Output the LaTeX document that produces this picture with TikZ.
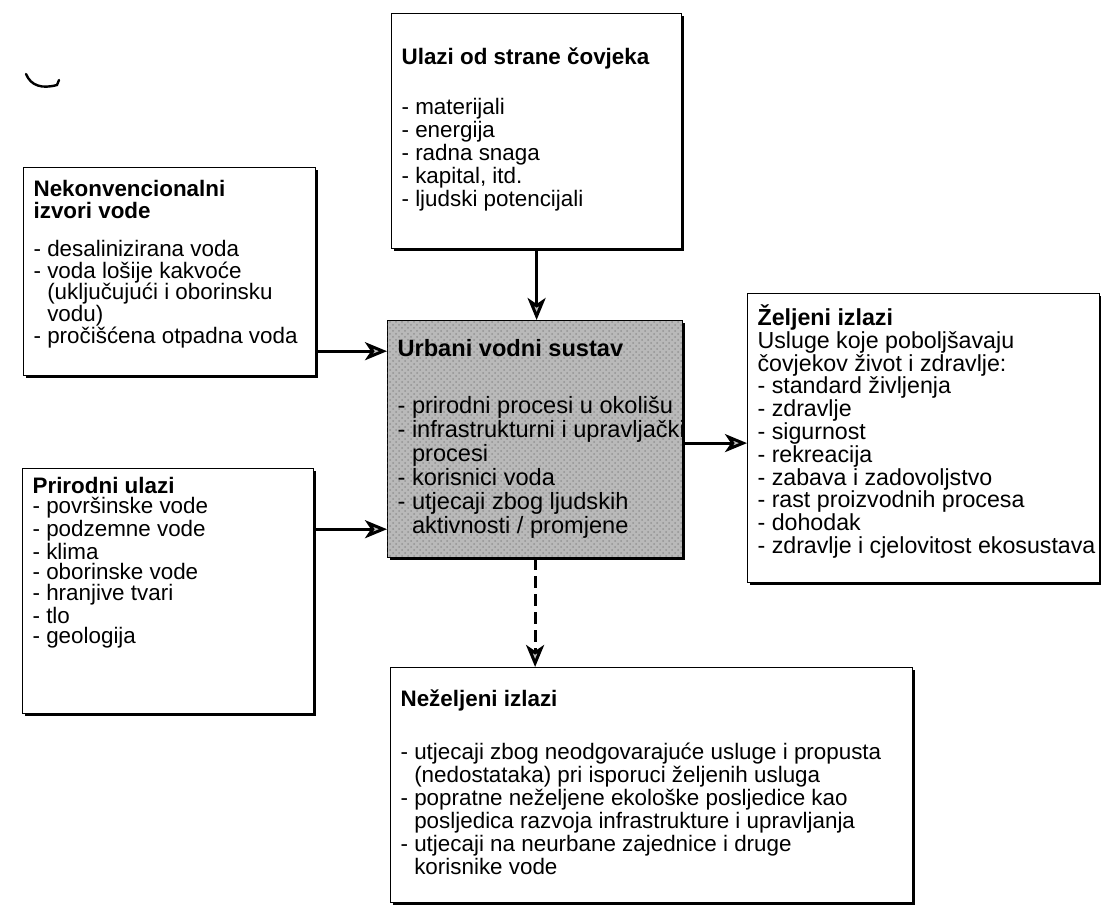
\documentclass[tikz,border=0pt]{standalone}
\usepackage{fontspec}
\setmainfont{Liberation Sans}
\usetikzlibrary{arrows.meta,shadows,patterns}

\tikzset{
  box/.style={draw=black, line width=0.6pt, fill=white, anchor=north west,
    inner xsep=5pt, inner ysep=0pt,
    drop shadow={shadow xshift=1.2pt, shadow yshift=-1.2pt, opacity=1, fill=black}},
  corebox/.style={box, fill=gray!55,
    postaction={pattern=crosshatch dots, pattern color=gray!85}},
  flow/.style={line width=1.5pt, -{Stealth[length=11pt,width=9pt,inset=3pt,fill=gray!50]}},
  sideflow/.style={flow, dash pattern=on 6pt off 3pt}
}
% text block: width, height, top gap, line skip, lines
\newcommand{\boxtext}[5]{\parbox[c][#2][t]{#1}{\fontsize{11.2}{#4}\selectfont\vspace*{#3}#5}}

\begin{document}
\begin{tikzpicture}[x=0.5pt,y=0.5pt,yscale=-1,xscale=1]
		% Picture frame 1101 x 904
		\useasboundingbox (0,0) rectangle (1101,904);

		% Stray pen mark, top left
		\draw[line width=1.2pt, line cap=round] (26,74) .. controls (31,86) and (42,89) .. (57,85) -- (59,80);

		% Human inputs (top)
		\node[box] (ulazi) at (391,13) {\boxtext{135pt}{117.5pt}{17.3pt}{11.5pt}{\textbf{Ulazi od strane čovjeka}\\[13.5pt]
			- materijali\\- energija\\- radna snaga\\- kapital, itd.\\- ljudski potencijali}};

		% Unconventional water sources (left, upper)
		\node[box] (nekonv) at (23,167) {\boxtext{136pt}{104pt}{6.3pt}{10.9pt}{\textbf{Nekonvencionalni}\\\textbf{izvori vode}\\[8.1pt]
			- desalinizirana voda\\- voda lošije kakvoće\\\hphantom{- }(uključujući i oborinsku\\\hphantom{- }vodu)\\- pročišćena otpadna voda}};

		% Natural inputs (left, lower)
		\node[box] (prirodni) at (22,468) {\boxtext{135.5pt}{122.5pt}{4.3pt}{10.2pt}{\textbf{Prirodni ulazi}\\
			- površinske vode\\- podzemne vode\\- klima\\- oborinske vode\\- hranjive tvari\\- tlo\\- geologija}};

		% Urban water system (centre)
		\node[corebox] (urbani) at (387,320) {\parbox[c][118.5pt][t]{137.5pt}{\fontsize{11.8}{12}\selectfont\vspace*{9.4pt}%
			\mbox{\textbf{Urbani vodni sustav}}\\[16.5pt]
			\mbox{- prirodni procesi u okolišu}\\\mbox{- infrastrukturni i upravljački}\\\hphantom{- }procesi\\- korisnici voda\\\mbox{- utjecaji zbog ljudskih}\\\mbox{\hphantom{- }aktivnosti / promjene}}};

		% Desired outputs (right)
		\node[box] (zeljeni) at (747,293) {\parbox[c][144.5pt][t]{166pt}{\fontsize{11.6}{11.4}\selectfont\vspace*{5.6pt}%
			\textbf{Željeni izlazi}\\
			Usluge koje poboljšavaju\\čovjekov život i zdravlje:\\- standard življenja\\- zdravlje\\- sigurnost\\- rekreacija\\- zabava i zadovoljstvo\\- rast proizvodnih procesa\\- dohodak\\\mbox{- zdravlje i cjelovitost ekosustava}}};

		% Undesired outputs (bottom)
		\node[box] (nezeljeni) at (390,667) {\boxtext{251pt}{117.5pt}{11.3pt}{10.2pt}{\textbf{Neželjeni izlazi}\\[14.8pt]
			- utjecaji zbog neodgovarajuće usluge i propusta\\\hphantom{- }(nedostataka) pri isporuci željenih usluga\\- popratne neželjene ekološke posljedice kao\\\hphantom{- }posljedica razvoja infrastrukture i upravljanja\\- utjecaji na neurbane zajednice i druge\\\hphantom{- }korisnike vode}};

		% Flows into and out of the system
		\draw[flow] (ulazi.south) -- (ulazi.south |- urbani.north);
		\draw[flow] ([yshift=-12.5pt]nekonv.south east) -- ([yshift=-12.5pt]nekonv.south east -| urbani.west);
		\draw[flow] ([yshift=-14.5pt]urbani.south west -| prirodni.east) -- ([yshift=-14.5pt]urbani.south west);
		\draw[flow] ([yshift=2pt]urbani.east) -- ([yshift=2pt]urbani.east -| zeljeni.west);
		\draw[sideflow] (urbani.south) -- (urbani.south |- nezeljeni.north);
	\end{tikzpicture}
\end{document}
